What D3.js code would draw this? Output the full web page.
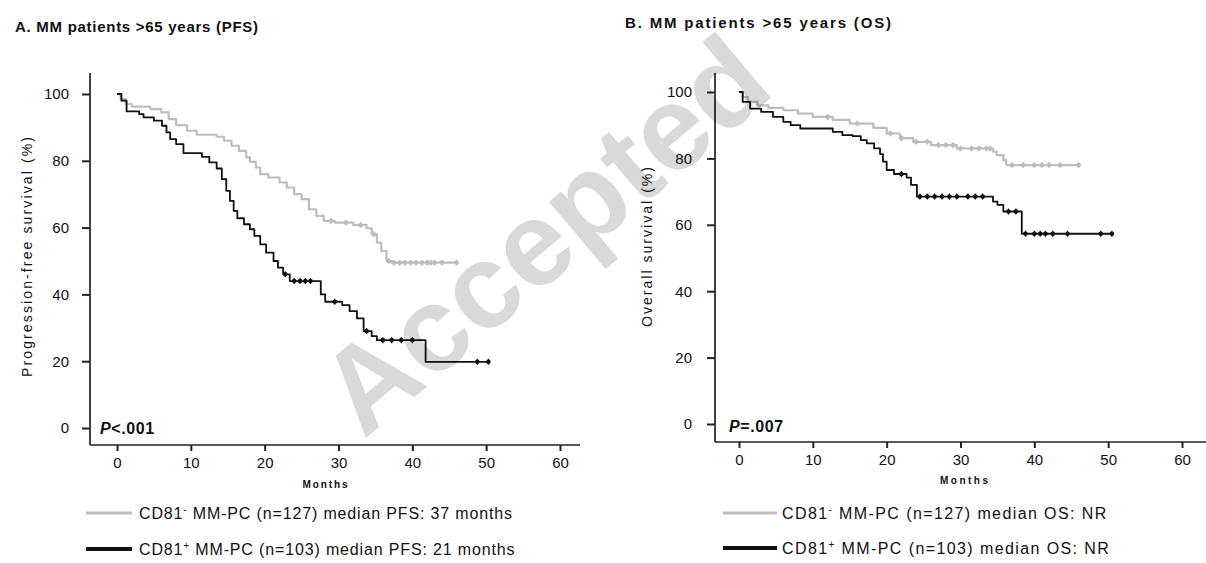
<!DOCTYPE html>
<html><head><meta charset="utf-8">
<script src="https://cdn.jsdelivr.net/npm/d3@7"></script>
<style>body{margin:0;background:#fff}svg text{font-family:"Liberation Sans",Arial,Helvetica,sans-serif}</style>
</head><body>
<svg id="c" width="1206" height="563"></svg>
<script>
// ---- data ----
const monthTicks = [0, 10, 20, 30, 40, 50, 60];
const pctTicks = [0, 20, 40, 60, 80, 100];

// Panel A: PFS  [month, survival %]
const pfsNegSteps = [[0,100],[0.5,98.5],[1.2,97],[2,96.2],[4.5,95.5],[6,94.5],[7,92.5],[8,90.7],[9.5,89],[10.8,87.8],[13.5,87.2],[14.5,86],[15.5,84.5],[16.5,83],[17.5,81],[18,79.7],[18.8,78],[19.4,76],[20.5,75],[22,73.5],[23,72],[24,70],[25,68.5],[26,65.5],[27,63.5],[28,62],[29.5,61.5],[32,60.8],[33.8,59.8],[34.5,58],[35.2,55.5],[35.8,53],[36.5,50],[37.2,49.5]];
const pfsNegEnd = 46;
const pfsNegCensor = [29, 31, 33, 34.8, 36.8, 37.5, 38.3, 39, 39.8, 40.5, 41.3, 42, 42.5, 43, 44, 46];

const pfsPosSteps = [[0,100],[0.6,98],[1.3,94.8],[3,94],[3.6,93],[5,92],[6.1,90.5],[6.7,88.5],[7.2,86.5],[8,85],[9,82.3],[11.5,81.2],[12.5,79.5],[13.5,77.7],[14.2,74.5],[14.8,71],[15.3,68],[15.8,65],[16.3,62.8],[17.2,61],[18,59.5],[18.6,57.5],[19.4,55],[20.2,52.5],[21.2,50],[21.8,48],[22.5,46],[23.4,44],[27.6,40],[28.2,37.8],[30.5,36.8],[31.5,35],[32.5,32.8],[33.4,29],[34.5,27.5],[35.2,26.3],[41.8,19.8]];
const pfsPosEnd = 50.3;
const pfsPosCensor = [22.8, 24, 24.8, 25.5, 26.2, 29.5, 33.8, 36, 37.2, 38.5, 40, 48.8, 50.3];

// Panel B: OS
const osNegSteps = [[0,100],[0.5,98.5],[1.2,97],[2.5,96],[4,95.2],[6,94.5],[8,93.5],[10,92.5],[12.7,91.6],[15,90.5],[18.2,89.2],[20,87.5],[21.8,86.1],[23.6,85],[26,84],[29.5,83],[34.4,82],[34.9,81],[35.8,79.5],[36.2,78]];
const osNegEnd = 46.2;
const osNegCensor = [12, 16, 20.5, 22, 24, 25.5, 27, 28, 29, 30, 31.5, 32.5, 33.5, 34, 37, 38.5, 40, 41, 42, 43.5, 46];

const osPosSteps = [[0,100],[0.5,97],[1.5,95],[3,94],[4.6,92.5],[6,91],[7,90],[8.3,89],[12.7,88],[14,87],[15.4,86.7],[16.5,85.5],[17.3,84.5],[18.3,83],[19.1,81.3],[19.5,79],[20,76.5],[21,75.3],[22.7,74.2],[23.3,72],[24.1,68.5],[34.4,67],[35,66],[35.8,64],[38.3,57.3]];
const osPosEnd = 50.5;
const osPosCensor = [22, 24.5, 25.5, 26.5, 27.5, 28.5, 29.5, 31, 32, 33, 36.5, 37.5, 38.8, 40, 40.8, 41.5, 42.5, 44.5, 49, 50.5];

const negLabelPFS = ["CD81", "-", " MM-PC (n=127) median PFS: 37 months"];
const posLabelPFS = ["CD81", "+", " MM-PC (n=103) median PFS: 21 months"];
const negLabelOS = ["CD81", "-", " MM-PC (n=127) median OS: NR"];
const posLabelOS = ["CD81", "+", " MM-PC (n=103) median OS: NR"];
const watermark = "Accepted";

// ---- drawing ----
const svg = d3.select("#c");
const GRAY = "#bdbdbd", BLACK = "#111";

function stepValue(steps, t) {
  let v = steps[0][1];
  for (const s of steps) if (s[0] <= t) v = s[1];
  return v;
}

function fitText(sel, len) {
  return sel.attr("textLength", len).attr("lengthAdjust", "spacing");
}

function panel(cfg) {
  const x = d3.scaleLinear().domain([0, 60]).range([cfg.x0, cfg.x60]);
  const y = d3.scaleLinear().domain([0, 100]).range([cfg.y0, cfg.y100]);
  const g = svg.append("g");

  // title
  fitText(g.append("text").attr("x", cfg.titleX).attr("y", cfg.titleY)
    .style("font-size", "15px").style("font-weight", "bold").attr("fill", "#111").text(cfg.title), cfg.titleLen);

  // axis lines
  g.append("line").attr("x1", cfg.axX).attr("x2", cfg.axX).attr("y1", cfg.axTop).attr("y2", cfg.axY)
    .attr("stroke", "#222").attr("stroke-width", 1.7);
  g.append("line").attr("x1", cfg.axX).attr("x2", cfg.axRight).attr("y1", cfg.axY).attr("y2", cfg.axY)
    .attr("stroke", "#222").attr("stroke-width", 1.7);

  const tickFont = '"Liberation Sans",Arial,sans-serif';
  // y axis ticks
  const ya = d3.axisLeft(y).tickValues(pctTicks).tickSize(8).tickPadding(cfg.yPad).tickFormat(d3.format("d"));
  const yg = g.append("g").attr("transform", `translate(${cfg.axX},0)`).call(ya);
  yg.select(".domain").remove();
  yg.selectAll(".tick line").attr("stroke", "#222").attr("stroke-width", 2);
  yg.selectAll(".tick text").style("font-size", "15px").attr("fill", "#111").style("font-family", tickFont);

  // x axis ticks
  const xa = d3.axisBottom(x).tickValues(monthTicks).tickSize(6).tickPadding(6).tickFormat(d3.format("d"));
  const xg = g.append("g").attr("transform", `translate(0,${cfg.axY})`).call(xa);
  xg.select(".domain").remove();
  xg.selectAll(".tick line").attr("stroke", "#222").attr("stroke-width", 2);
  xg.selectAll(".tick text").style("font-size", "15px").attr("fill", "#111").style("font-family", tickFont);

  fitText(g.append("text").attr("x", cfg.monthsX - cfg.monthsLen / 2).attr("y", cfg.monthsY)
    .style("font-size", "10px").style("font-weight", "bold").attr("fill", "#111").text("Months"), cfg.monthsLen);

  fitText(g.append("text").attr("transform", `translate(${cfg.ylabX},${cfg.ylabY + cfg.ylabLen / 2}) rotate(-90)`)
    .style("font-size", "14px").attr("fill", "#111").text(cfg.ylab), cfg.ylabLen);

  // P value
  const pt = g.append("text").attr("x", cfg.pX).attr("y", cfg.pY).style("font-size", "16px")
    .style("font-weight", "bold").attr("fill", "#111").style("letter-spacing", "0.6px");
  pt.append("tspan").style("font-style", "italic").text("P");
  pt.append("tspan").text(cfg.pText);

  const line = d3.line().x(d => x(d[0])).y(d => y(d[1])).curve(d3.curveStepAfter);
  cfg.series.forEach(s => {
    const pts = s.steps.concat([[s.end, s.steps[s.steps.length - 1][1]]]);
    g.append("path").attr("d", line(pts)).attr("fill", "none")
      .attr("stroke", s.color).attr("stroke-width", s.w).attr("stroke-linejoin", "round");
    g.selectAll(null).data(s.censor).enter().append("circle")
      .attr("cx", d => x(d)).attr("cy", d => y(stepValue(s.steps, d)))
      .attr("r", 2.3).attr("fill", s.color);
    g.selectAll(null).data(s.censor).enter().append("line")
      .attr("x1", d => x(d)).attr("x2", d => x(d))
      .attr("y1", d => y(stepValue(s.steps, d)) - 3).attr("y2", d => y(stepValue(s.steps, d)) + 3)
      .attr("stroke", s.color).attr("stroke-width", 1.2);
  });

  // legend
  cfg.series.forEach((s, i) => {
    const ly = cfg.legY[i];
    g.append("line").attr("x1", cfg.legX1).attr("x2", cfg.legX2).attr("y1", ly).attr("y2", ly)
      .attr("stroke", s.color).attr("stroke-width", s.legW);
    const t = g.append("text").attr("x", cfg.legTX).attr("y", ly + 6).style("font-size", "16px")
      .attr("fill", "#111").style("letter-spacing", cfg.legLS);
    t.append("tspan").text(s.label[0]);
    t.append("tspan").attr("dy", -6).style("font-size", "10px").text(s.label[1]);
    t.append("tspan").attr("dy", 6).text(s.label[2]);
  });
}

panel({
  title: "A. MM patients >65 years (PFS)", titleX: 15, titleY: 32, titleLen: 243,
  x0: 117, x60: 560, y0: 428, y100: 94,
  axX: 90, axTop: 73, axY: 445, axRight: 580, yPad: 13,
  monthsX: 325, monthsY: 488, monthsLen: 45,
  ylab: "Progression-free survival (%)", ylabX: 32, ylabY: 257, ylabLen: 240,
  pX: 100, pY: 434, pText: "<.001",
  legX1: 86, legX2: 132, legTX: 139, legY: [513, 549], legLS: "0.85px",
  series: [
    {steps: pfsNegSteps, end: pfsNegEnd, censor: pfsNegCensor, color: GRAY, w: 2.2, legW: 3, label: negLabelPFS},
    {steps: pfsPosSteps, end: pfsPosEnd, censor: pfsPosCensor, color: BLACK, w: 1.8, legW: 4, label: posLabelPFS}
  ]
});

panel({
  title: "B. MM patients >65 years (OS)", titleX: 625, titleY: 28, titleLen: 266,
  x0: 739, x60: 1182, y0: 424, y100: 92,
  axX: 715, axTop: 73, axY: 442, axRight: 1206, yPad: 15,
  monthsX: 964, monthsY: 484, monthsLen: 48,
  ylab: "Overall survival (%)", ylabX: 652, ylabY: 247, ylabLen: 160,
  pX: 729, pY: 432, pText: "=.007",
  legX1: 723, legX2: 777, legTX: 782, legY: [513, 548], legLS: "1.4px",
  series: [
    {steps: osNegSteps, end: osNegEnd, censor: osNegCensor, color: GRAY, w: 2.2, legW: 3, label: negLabelOS},
    {steps: osPosSteps, end: osPosEnd, censor: osPosCensor, color: BLACK, w: 1.8, legW: 4, label: posLabelOS}
  ]
});

// watermark (translucent overlay), laid out letter by letter along a -40° baseline
(function () {
  const fs = 120, ang = -40, cx = 550, cy = 242;
  const g = svg.append("g").style("pointer-events", "none");
  const style = s => s.style("font-size", fs + "px").style("font-weight", "bold");
  const probe = style(g.append("text")).text("");
  const widths = watermark.split("").map(ch => { probe.text(ch); return probe.node().getComputedTextLength(); });
  probe.remove();
  const total = d3.sum(widths);
  const r = ang * Math.PI / 180;
  let acc = -total / 2;
  watermark.split("").forEach((ch, i) => {
    const off = acc + widths[i] / 2;
    acc += widths[i];
    const px = cx + off * Math.cos(r), py = cy + off * Math.sin(r);
    style(g.append("text")).attr("transform", `translate(${px},${py}) rotate(${ang})`)
      .attr("text-anchor", "middle").attr("dominant-baseline", "middle")
      .attr("fill", "#000").attr("fill-opacity", 0.15).text(ch);
  });
})();
</script>
</body></html>
